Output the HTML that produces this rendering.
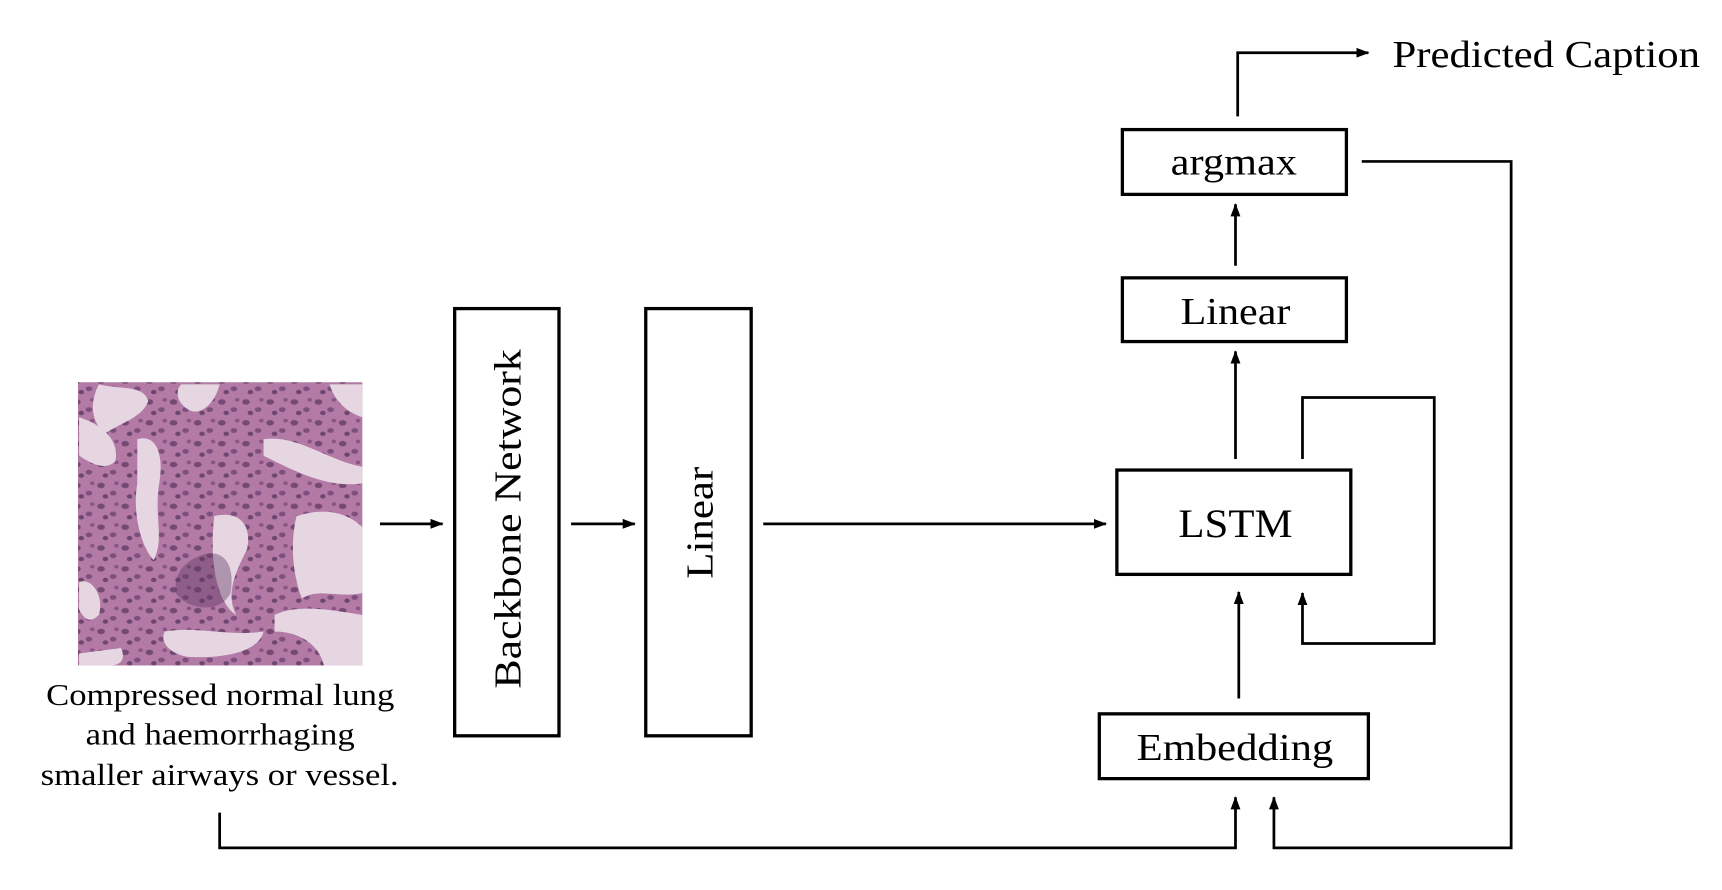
<!DOCTYPE html>
<html><head><meta charset="utf-8"><style>
html,body{margin:0;padding:0;background:#fff;}
svg{display:block;}
text{font-family:"Liberation Serif",serif;fill:#000;}
</style></head><body>
<svg width="1722" height="890" viewBox="0 0 1568 810.4" preserveAspectRatio="none" xmlns="http://www.w3.org/2000/svg">
<defs>
<marker id="ah" markerWidth="12" markerHeight="12" refX="11" refY="6" orient="auto" markerUnits="userSpaceOnUse">
<path d="M0,1.5 L12,6 L0,10.5 z" fill="#000"/>
</marker>
<pattern id="cells" width="22" height="19" patternUnits="userSpaceOnUse">
<ellipse cx="4" cy="5" rx="3.5" ry="2.5" fill="#4a2a55"/>
<ellipse cx="15" cy="12" rx="3" ry="2.2" fill="#5a3366"/>
<ellipse cx="8" cy="15" rx="2.5" ry="2" fill="#3e2448"/>
<ellipse cx="18" cy="3" rx="2" ry="1.6" fill="#6a3a70"/>
</pattern>
<clipPath id="imgclip"><rect x="71" y="348" width="259" height="258"/></clipPath>
</defs>

<g clip-path="url(#imgclip)">
<rect x="71" y="348" width="259" height="258" fill="#b27aa4"/>
<rect x="71" y="348" width="259" height="258" fill="url(#cells)" opacity="0.6"/>
<g fill="#e6d6e2">
<path d="M90,350 C110,355 130,350 135,365 C130,380 110,385 95,395 C85,385 80,370 90,350z"/>
<path d="M165,350 L200,350 C195,370 180,380 170,372 C160,365 160,355 165,350z"/>
<path d="M72,380 C90,385 110,400 105,420 C95,430 80,420 72,415z"/>
<path d="M125,400 C140,395 150,410 145,440 C140,470 150,490 140,510 C130,500 120,470 125,440z"/>
<path d="M300,350 L330,350 L330,380 C315,375 305,365 300,350z"/>
<path d="M240,400 C270,395 300,420 330,425 L330,440 C300,445 270,430 240,415z"/>
<path d="M270,470 C300,460 320,470 330,480 L330,540 C310,545 290,535 275,545 C265,520 265,490 270,470z"/>
<path d="M195,470 C215,465 230,475 225,500 C215,520 205,540 215,560 C200,550 190,520 195,470z"/>
<path d="M72,530 C85,525 95,545 90,560 C80,570 75,560 72,555z"/>
<path d="M150,575 C180,570 210,580 240,575 C235,595 200,600 170,598 C155,595 145,585 150,575z"/>
<path d="M250,560 C270,550 300,555 330,560 L330,606 L295,606 C290,585 270,575 250,575z"/>
<path d="M72,595 L110,590 C115,600 110,606 100,606 L72,606z"/>
</g>
<path d="M185,505 C200,500 215,510 210,540 C200,560 170,555 160,540 C158,520 170,510 185,505z" fill="#5a3560" opacity="0.4"/>
</g>

<text x="42" y="642" font-size="28" textLength="317" lengthAdjust="spacingAndGlyphs">Compressed normal lung</text>
<text x="78" y="678" font-size="28" textLength="245" lengthAdjust="spacingAndGlyphs">and haemorrhaging</text>
<text x="37" y="715" font-size="28" textLength="326" lengthAdjust="spacingAndGlyphs">smaller airways or vessel.</text>

<g stroke="#000" stroke-width="3" fill="none">
<rect x="414" y="281" width="95" height="389"/>
<rect x="588" y="281" width="96" height="389"/>
<rect x="1017" y="428" width="213" height="95"/>
<rect x="1022" y="253" width="204" height="58"/>
<rect x="1022" y="118" width="204" height="59"/>
<rect x="1001" y="650" width="245" height="59"/>
</g>

<g stroke="#000" stroke-width="2.5" fill="none" marker-end="url(#ah)">
<line x1="346" y1="477" x2="403" y2="477"/>
<line x1="520" y1="477" x2="578" y2="477"/>
<line x1="695" y1="477" x2="1007" y2="477"/>
<line x1="1125" y1="418" x2="1125" y2="320"/>
<line x1="1125" y1="242" x2="1125" y2="186"/>
<polyline points="1127,106 1127,48 1246,48"/>
<polyline points="1240,147 1376,147 1376,772 1160,772 1160,726"/>
<polyline points="1186,418 1186,362 1306,362 1306,586 1186,586 1186,540"/>
<line x1="1128" y1="636" x2="1128" y2="539"/>
<polyline points="200,740 200,772 1125,772 1125,726"/>
</g>

<text x="1268" y="61" font-size="35" textLength="280" lengthAdjust="spacingAndGlyphs">Predicted Caption</text>
<text x="1066" y="159" font-size="35" textLength="115" lengthAdjust="spacingAndGlyphs">argmax</text>
<text x="1075" y="295" font-size="35" textLength="100" lengthAdjust="spacingAndGlyphs">Linear</text>
<text x="1073" y="489" font-size="37" textLength="104" lengthAdjust="spacingAndGlyphs">LSTM</text>
<text x="1035" y="692" font-size="35" textLength="179" lengthAdjust="spacingAndGlyphs">Embedding</text>
<text transform="translate(474,627) rotate(-90)" font-size="35" textLength="309" lengthAdjust="spacingAndGlyphs">Backbone Network</text>
<text transform="translate(649,527) rotate(-90)" font-size="35" textLength="102" lengthAdjust="spacingAndGlyphs">Linear</text>
</svg>
</body></html>
